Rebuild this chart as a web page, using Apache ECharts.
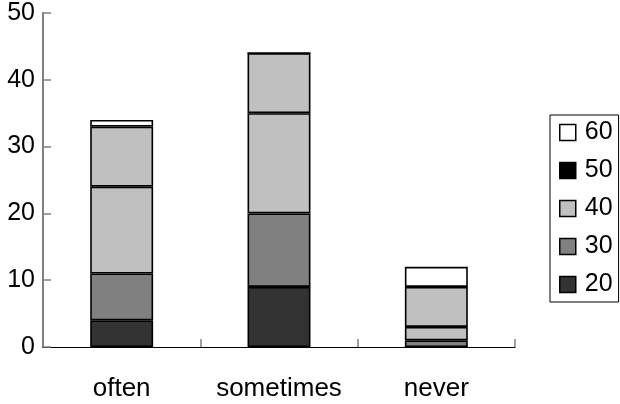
<!DOCTYPE html>
<html><head><meta charset="utf-8">
<script src="https://cdn.jsdelivr.net/npm/echarts@6/dist/echarts.min.js"></script>
<style>html,body{margin:0;padding:0;background:#fff}#c{width:620px;height:404px}</style>
</head><body><div id="c"></div>
<script>
const categories = ['often', 'sometimes', 'never'];
const s20 = [4, 9, 0];
const s30 = [7, 11, 1];
const s40 = [13, 15, 2];
const s50 = [9, 9, 6];
const s60 = [1, 0, 3];
const yTicks = [0, 10, 20, 30, 40, 50];
const legendOrder = ['60', '50', '40', '30', '20'];

const font = "'Liberation Sans', Arial, sans-serif";
const barColors = {'20': '#333333', '30': '#808080', '40': '#c0c0c0', '50': '#c0c0c0', '60': '#ffffff'};
const legendColors = {'20': '#333333', '30': '#808080', '40': '#c0c0c0', '50': '#000000', '60': '#ffffff'};
const seriesData = {'20': s20, '30': s30, '40': s40, '50': s50, '60': s60};

const chart = echarts.init(document.getElementById('c'), null, {renderer: 'canvas'});
chart.setOption({
  animation: false,
  backgroundColor: '#fff',
  grid: {left: 43, right: 105, top: 13, bottom: 57},
  legend: {
    orient: 'vertical',
    left: 550, top: 115,
    padding: [5, 6, 5, 9],
    borderColor: '#000', borderWidth: 1,
    itemWidth: 16, itemHeight: 16, itemGap: 13,
    icon: 'rect',
    textStyle: {fontFamily: font, fontSize: 25, color: '#000', padding: [0, 0, 0, 4]},
    data: legendOrder.map(n => ({name: n, itemStyle: {color: legendColors[n], borderColor: '#000', borderWidth: 1.5}}))
  },
  xAxis: {
    type: 'category', data: categories,
    axisLine: {lineStyle: {color: '#000', width: 1}},
    axisTick: {show: true, inside: true, length: 8, lineStyle: {color: '#808080', width: 1.5}},
    axisLabel: {fontFamily: font, fontSize: 26, color: '#000', margin: 29, interval: 0, hideOverlap: false}
  },
  yAxis: {
    type: 'value', min: yTicks[0], max: yTicks[yTicks.length - 1], interval: 10,
    splitLine: {show: false},
    axisLine: {show: true, lineStyle: {color: '#808080', width: 2}},
    axisTick: {show: true, inside: true, length: 8, lineStyle: {color: '#808080', width: 1.5}},
    axisLabel: {fontFamily: font, fontSize: 25, color: '#000', margin: 8}
  },
  series: ['20', '30', '40', '50', '60'].map(n => ({
    name: n, type: 'bar', stack: 'total', barWidth: '40%',
    data: seriesData[n],
    itemStyle: {color: barColors[n], borderColor: '#000', borderWidth: 1.6}
  }))
});
</script></body></html>
